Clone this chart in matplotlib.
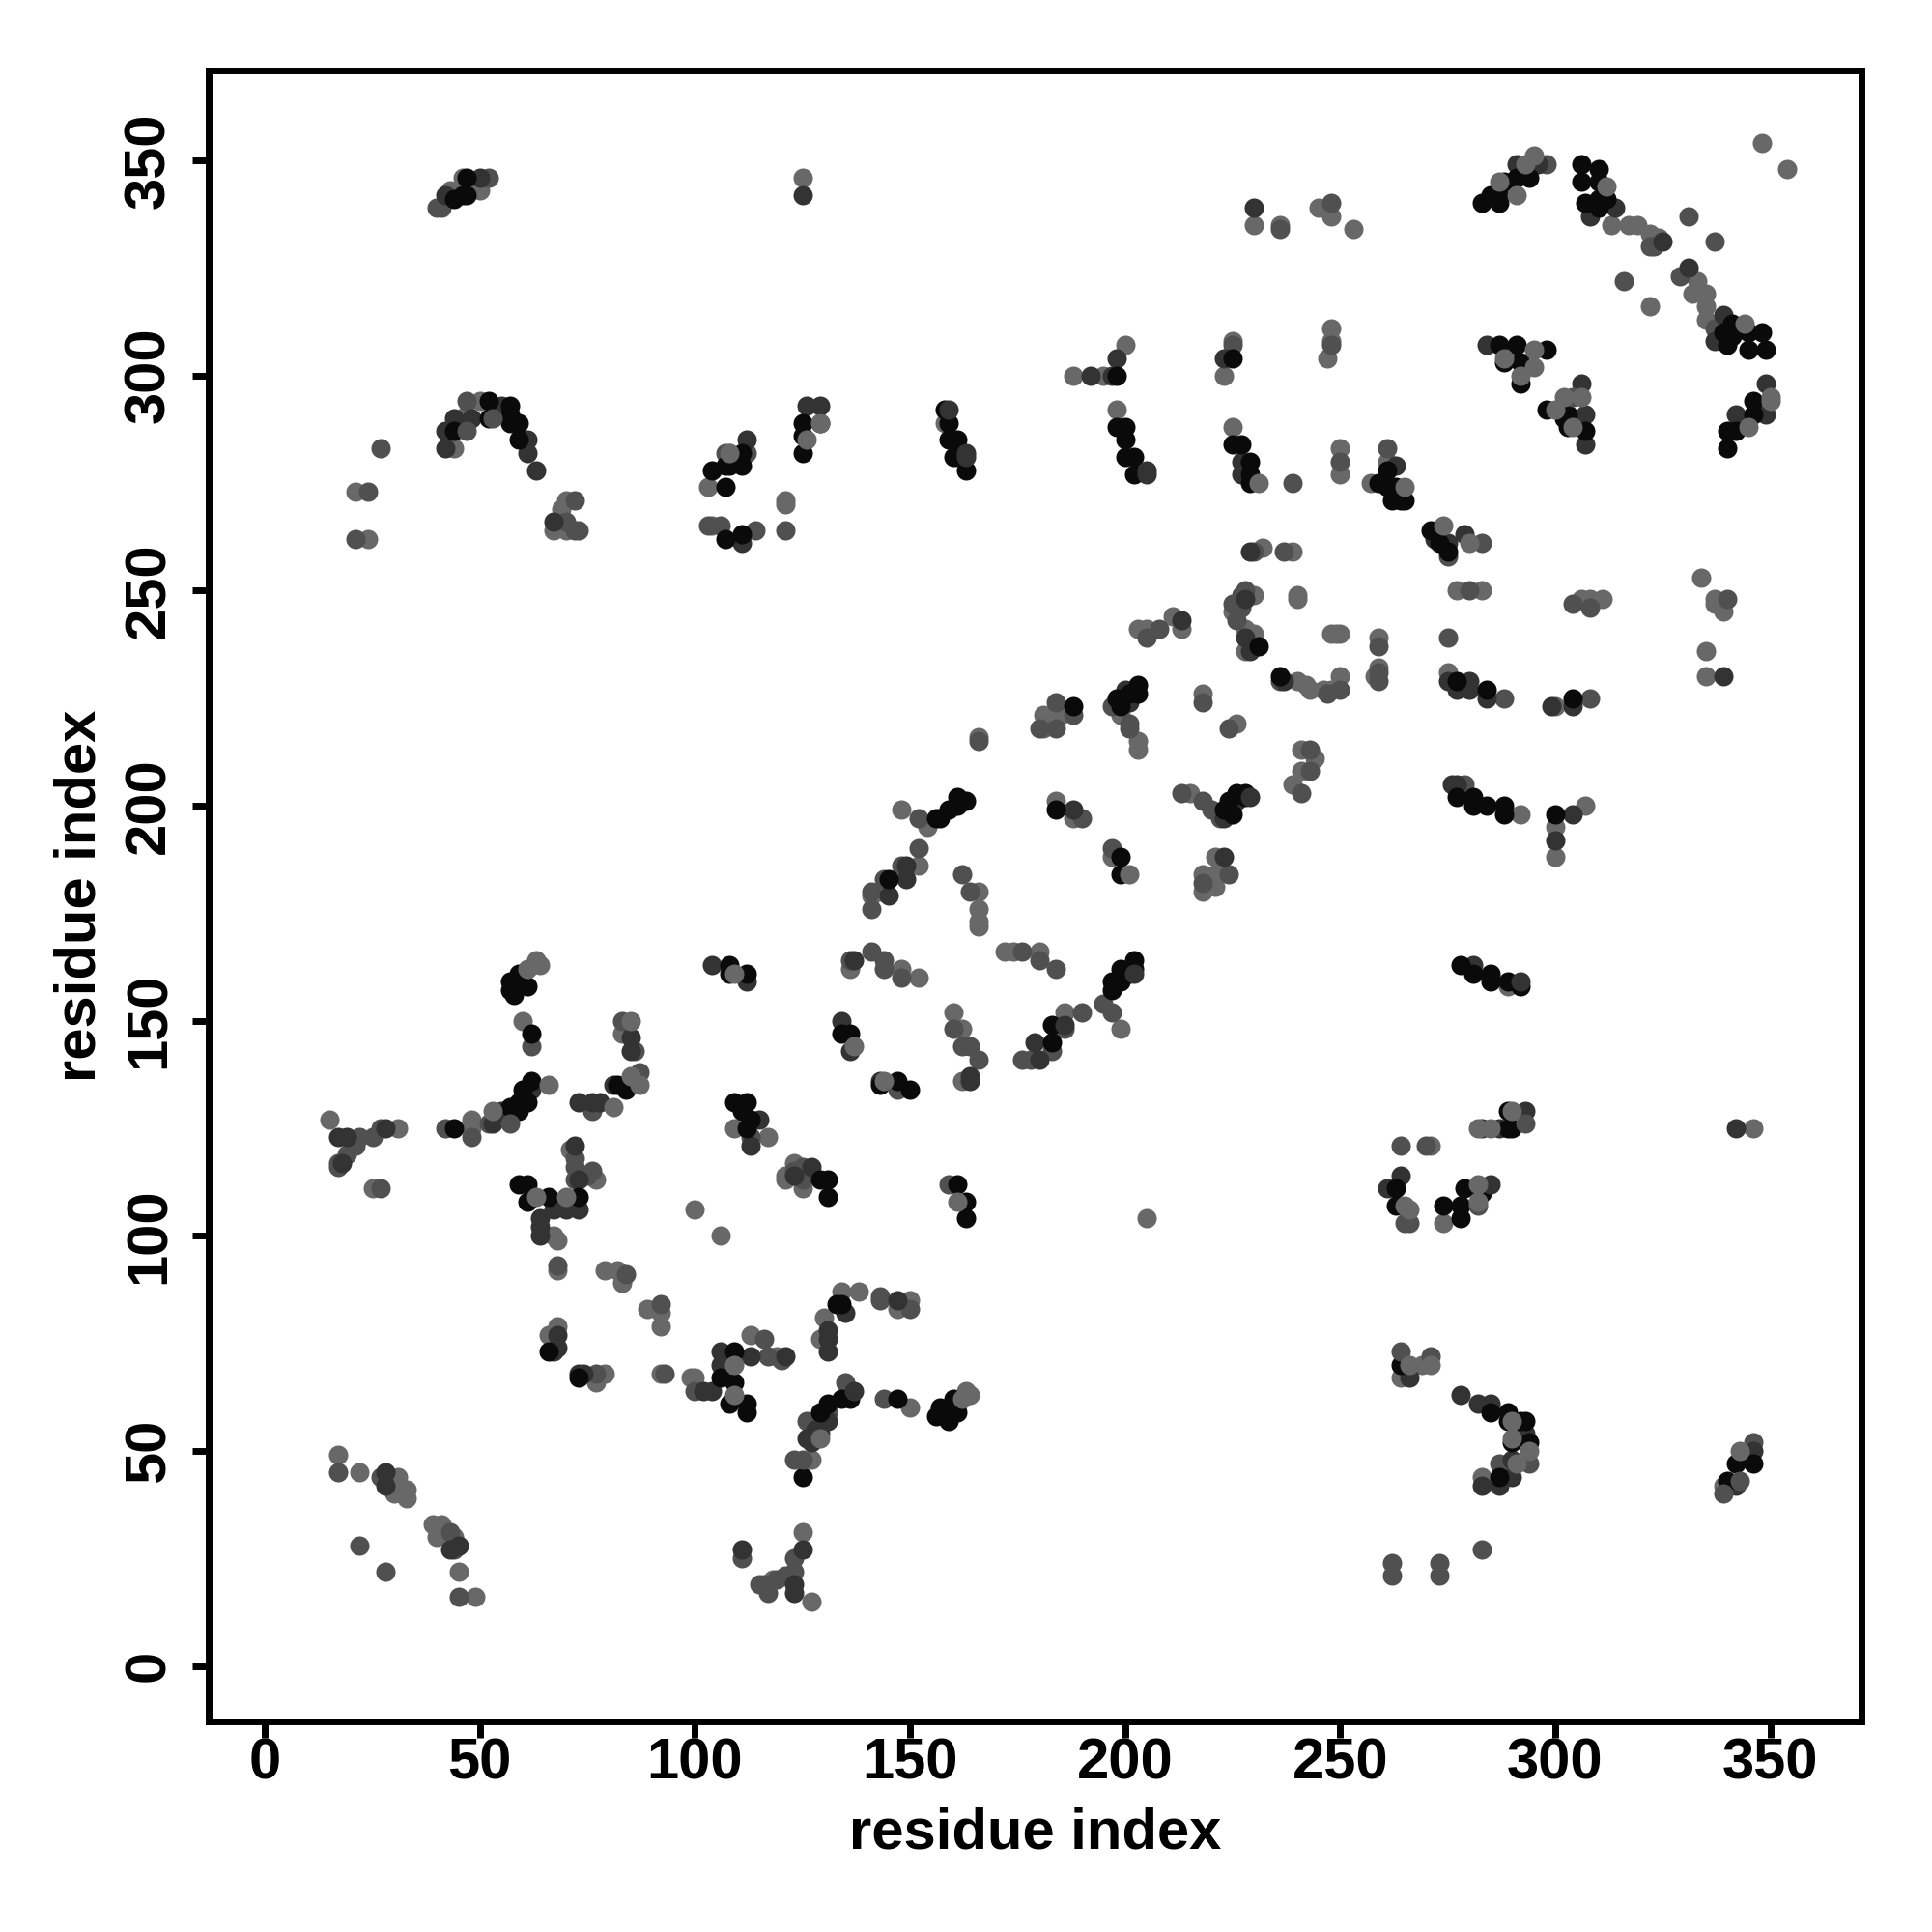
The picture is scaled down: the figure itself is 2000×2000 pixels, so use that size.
#!/usr/bin/env python3
# residue contact map, dots sorted by the grey level
import matplotlib

matplotlib.use("Agg")
import matplotlib.pyplot as plt

plt.rcParams["font.family"] = ["Liberation Sans", "DejaVu Sans"]
plt.rcParams["font.weight"] = "bold"

C_LIGHT, C_MID, C_DARK, C_BLACK = "#686868", "#505050", "#333333", "#0a0a0a"

ticks = [0, 50, 100, 150, 200, 250, 300, 350]

light_pts = [
    (43, 343), (50, 343), (46, 346), (50, 294), (47, 291), (44, 283), (21, 273), (24, 262), (70, 271), (69, 269),
    (67, 264), (70, 264), (108, 282), (103, 274), (125, 346), (230, 335), (236, 335), (200, 307), (195, 300),
    (188, 300), (225, 308), (223, 300), (121, 271), (121, 270), (158, 289), (198, 292), (225, 288), (232, 260),
    (239, 259), (230, 249), (225, 245), (240, 249), (240, 248), (203, 241), (205, 241), (211, 244), (213, 241),
    (228, 241), (230, 240), (228, 236), (240, 229), (242, 228), (181, 221), (185, 221), (181, 218), (199, 221),
    (203, 215), (203, 213), (218, 226), (226, 219), (166, 216), (241, 213), (241, 208), (239, 205), (244, 211),
    (215, 203), (184, 201), (188, 197), (148, 199), (154, 195), (152, 186), (143, 180), (141, 179), (166, 180),
    (166, 176), (166, 173), (166, 172), (197, 188), (221, 188), (218, 184), (218, 180), (221, 184), (221, 181),
    (136, 162), (148, 162), (152, 160), (172, 166), (174, 166), (180, 166), (199, 148), (186, 152), (160, 152),
    (162, 148), (162, 136), (60, 150), (83, 147), (48, 127), (48, 125), (15, 127), (31, 125), (25, 111), (71, 120),
    (77, 113), (67, 100), (68, 99), (68, 92), (79, 92), (82, 92), (83, 89), (100, 106), (106, 100), (89, 83),
    (92, 82), (92, 79), (68, 79), (66, 77), (79, 68), (77, 66), (92, 68), (99, 67), (100, 67), (113, 77), (17, 49),
    (22, 45), (31, 44), (33, 41), (30, 40), (33, 39), (39, 33), (41, 33), (40, 30), (44, 30), (45, 22), (49, 16),
    (121, 114), (125, 111), (205, 104), (134, 87), (138, 87), (150, 85), (147, 83), (130, 81), (129, 76), (119, 72),
    (127, 48), (150, 60), (125, 31), (127, 15), (118, 20), (274, 103), (264, 67), (269, 70), (283, 44), (339, 42),
    (249, 240), (248, 240), (250, 240), (259, 239), (250, 230), (248, 227), (246, 227), (243, 227), (259, 232),
    (258, 230), (275, 231), (300, 223), (335, 236), (335, 230), (277, 250), (283, 250), (308, 248), (311, 248),
    (306, 248), (334, 253), (337, 248), (337, 247), (339, 245), (348, 354), (354, 348), (245, 339), (248, 337),
    (253, 334), (248, 311), (248, 308), (247, 304), (313, 335), (317, 335), (319, 335), (322, 333), (324, 332),
    (322, 316), (331, 324), (333, 322), (332, 319), (335, 319), (335, 316), (335, 313), (250, 283), (250, 277),
    (261, 280), (257, 275), (292, 198), (307, 200), (300, 195), (300, 188), (289, 158), (346, 125), (271, 121),
    (109, 125), (117, 123), (123, 117), (104, 265), (121, 113),
]
mid_pts = [
    (40, 339), (41, 339), (52, 346), (47, 294), (27, 283), (24, 273), (21, 262), (70, 266), (72, 264), (112, 282),
    (107, 282), (103, 265), (106, 265), (114, 264), (236, 334), (225, 307), (121, 264), (239, 275), (237, 259),
    (230, 259), (228, 250), (227, 249), (225, 247), (227, 246), (205, 239), (208, 241), (226, 243), (236, 229),
    (184, 224), (188, 221), (184, 218), (180, 218), (197, 223), (201, 219), (201, 218), (218, 224), (224, 218),
    (166, 215), (243, 213), (243, 208), (241, 203), (213, 203), (218, 201), (220, 199), (222, 197), (190, 197),
    (152, 197), (152, 190), (148, 186), (144, 183), (141, 180), (141, 176), (162, 184), (164, 180), (197, 190),
    (224, 184), (218, 182), (136, 164), (141, 166), (144, 164), (144, 162), (148, 160), (176, 166), (180, 164),
    (184, 162), (195, 154), (197, 152), (190, 152), (186, 148), (176, 141), (178, 141), (183, 143), (160, 148),
    (162, 144), (164, 144), (166, 141), (147, 134), (62, 144), (83, 150), (86, 143), (87, 138), (76, 129), (52, 126),
    (48, 123), (42, 125), (22, 123), (25, 123), (27, 125), (21, 121), (19, 119), (17, 117), (17, 116), (27, 111),
    (72, 118), (72, 116), (76, 115), (72, 113), (75, 114), (68, 93), (84, 91), (92, 84), (77, 68), (93, 68),
    (100, 64), (17, 45), (27, 44), (43, 31), (44, 27), (22, 28), (28, 22), (45, 16), (111, 25), (125, 113),
    (159, 112), (143, 86), (150, 83), (143, 85), (116, 76), (117, 72), (120, 71), (135, 66), (126, 57), (131, 59),
    (123, 48), (144, 62), (123, 25), (123, 22), (121, 21), (116, 19), (117, 17), (115, 19), (119, 20), (266, 103),
    (265, 103), (271, 72), (287, 47), (346, 52), (262, 24), (262, 21), (273, 24), (273, 21), (283, 27), (259, 237),
    (275, 239), (250, 227), (247, 226), (259, 231), (259, 229), (288, 225), (308, 225), (280, 250), (304, 247),
    (308, 246), (340, 248), (248, 340), (298, 349), (331, 337), (337, 331), (316, 322), (322, 330), (323, 330),
    (329, 323), (337, 311), (250, 280), (261, 283), (283, 261), (275, 258), (279, 205), (264, 121), (270, 121),
    (248, 307), (123, 115), (113, 123), (125, 116),
]
dark_pts = [
    (42, 342), (50, 346), (55, 293), (48, 290), (44, 290), (42, 287), (42, 283), (61, 285), (61, 282), (63, 278),
    (67, 266), (112, 285), (111, 261), (125, 342), (230, 339), (198, 304), (197, 300), (192, 300), (223, 304),
    (126, 293), (129, 293), (161, 281), (227, 280), (227, 277), (229, 259), (228, 248), (213, 243), (228, 239),
    (229, 236), (237, 229), (201, 224), (200, 227), (226, 201), (223, 197), (188, 199), (149, 186), (149, 183),
    (145, 179), (137, 164), (179, 145), (180, 141), (164, 136), (134, 150), (136, 143), (143, 136), (223, 188),
    (104, 163), (112, 159), (85, 146), (85, 143), (85, 135), (81, 135), (73, 131), (76, 131), (78, 131), (62, 134),
    (55, 129), (53, 126), (28, 125), (17, 123), (19, 123), (18, 117), (72, 121), (73, 113), (67, 106), (70, 106),
    (73, 106), (64, 104), (64, 102), (64, 100), (68, 77), (68, 74), (67, 73), (73, 68), (74, 68), (102, 64),
    (104, 64), (106, 73), (106, 70), (113, 72), (28, 45), (28, 42), (45, 28), (43, 27), (111, 27), (123, 114),
    (135, 82), (147, 85), (131, 78), (131, 76), (131, 73), (131, 57), (128, 55), (129, 54), (126, 53), (127, 52),
    (125, 27), (123, 19), (123, 17), (264, 114), (261, 111), (266, 67), (278, 63), (282, 61), (285, 61), (293, 54),
    (290, 48), (290, 44), (283, 42), (287, 42), (346, 50), (342, 42), (291, 349), (308, 337), (314, 339), (325, 331),
    (331, 325), (337, 308), (339, 314), (284, 307), (306, 298), (307, 291), (307, 284), (349, 298), (342, 291),
    (349, 291), (263, 279), (272, 262), (275, 261), (279, 263), (275, 229), (280, 229), (280, 227), (277, 227),
    (284, 225), (304, 223), (339, 230), (299, 223), (277, 205), (276, 205), (304, 198), (300, 192), (281, 163),
    (283, 125), (287, 125), (342, 125), (115, 127), (113, 121), (127, 116), (296, 349),
]
black_pts = [
    (44, 341), (46, 342), (47, 342), (47, 346), (52, 294), (52, 290), (44, 287), (57, 293), (57, 291), (57, 289),
    (59, 289), (59, 285), (111, 282), (104, 278), (107, 279), (108, 279), (111, 279), (107, 274), (107, 262),
    (111, 263), (198, 300), (225, 304), (125, 289), (129, 289), (125, 286), (125, 282), (158, 292), (159, 289),
    (159, 285), (161, 285), (160, 281), (163, 278), (198, 288), (200, 288), (200, 285), (200, 281), (202, 281),
    (202, 277), (225, 284), (227, 284), (229, 280), (229, 277), (229, 275), (231, 237), (236, 230), (188, 223),
    (203, 228), (201, 226), (203, 226), (199, 225), (198, 225), (199, 223), (184, 199), (157, 197), (159, 199),
    (161, 202), (161, 200), (156, 197), (163, 201), (145, 183), (199, 188), (199, 184), (202, 164), (202, 162),
    (201, 161), (199, 162), (197, 159), (199, 159), (197, 157), (183, 149), (183, 145), (134, 147), (136, 147),
    (147, 136), (143, 135), (150, 134), (108, 163), (108, 161), (112, 161), (59, 161), (57, 159), (57, 157), (59, 158),
    (58, 156), (61, 158), (62, 147), (82, 135), (84, 134), (62, 136), (60, 134), (59, 131), (61, 131), (57, 130),
    (59, 129), (44, 125), (59, 112), (61, 112), (61, 108), (66, 109), (73, 109), (66, 73), (73, 67), (109, 73),
    (106, 67), (109, 66), (108, 61), (112, 61), (112, 59), (129, 113), (131, 113), (131, 109), (161, 112), (163, 108),
    (163, 104), (134, 84), (133, 84), (125, 44), (134, 62), (136, 62), (131, 61), (129, 59), (147, 62), (161, 61),
    (160, 62), (159, 60), (157, 60), (156, 58), (159, 57), (161, 59), (263, 111), (263, 107), (274, 107), (278, 104),
    (279, 111), (278, 107), (283, 110), (264, 70), (285, 59), (289, 59), (289, 57), (292, 57), (293, 57), (294, 52),
    (290, 52), (287, 44), (346, 47), (342, 47), (340, 43), (291, 346), (294, 346), (287, 342), (283, 340), (287, 340),
    (306, 349), (310, 348), (306, 345), (310, 345), (312, 341), (307, 340), (310, 341), (310, 339), (339, 310),
    (340, 307), (341, 312), (345, 310), (348, 310), (345, 306), (349, 306), (341, 309), (287, 307), (291, 307),
    (298, 306), (288, 303), (292, 303), (292, 298), (298, 292), (303, 291), (303, 288), (307, 287), (346, 294),
    (346, 291), (342, 287), (340, 287), (340, 283), (259, 275), (261, 274), (263, 274), (264, 271), (265, 271),
    (262, 271), (261, 278), (271, 264), (273, 261), (275, 259), (277, 229), (284, 227), (304, 225), (277, 202),
    (281, 202), (281, 200), (284, 200), (288, 200), (288, 198), (300, 198), (278, 163), (281, 161), (285, 161),
    (285, 159), (289, 159), (292, 158), (289, 129), (289, 125), (290, 125),
    (109, 131), (112, 131), (111, 129), (113, 127), (112, 125), (223, 199), (224, 201), (226, 203), (228, 203),
    (225, 198), (228, 202), (285, 342), (288, 345), (293, 347), (302, 290),
]
# dots that sit on top of the black ones in the picture
over_dark_pts = [
    (159, 292), (163, 282), (163, 281), (205, 278), (205, 277), (164, 137), (186, 149), (202, 161), (292, 159),
    (121, 72), (285, 112), (137, 64), (293, 129), (229, 202),
]
over_mid_pts = [
    (53, 290), (47, 287), (73, 264), (72, 271), (125, 48), (57, 126), (294, 47), (339, 40), (343, 43), (264, 73),
    (282, 107), (304, 295), (293, 126),
]
over_light_pts = [
    (108, 282), (129, 289), (126, 285), (231, 275), (201, 184), (137, 144), (144, 136), (109, 161), (85, 150),
    (85, 137), (87, 135), (81, 130), (109, 70), (109, 63), (63, 109), (70, 109), (63, 164), (64, 163), (61, 162),
    (66, 135), (53, 129), (290, 57), (290, 53), (291, 47), (294, 50), (265, 107), (266, 106), (282, 108), (282, 112),
    (266, 70), (271, 70), (295, 306), (288, 304), (295, 302), (292, 300), (302, 295), (306, 295), (300, 292),
    (304, 288), (344, 312), (312, 344), (293, 349), (295, 351), (287, 345), (291, 342), (265, 274), (274, 265),
    (280, 261), (350, 295), (350, 294), (345, 288), (343, 50), (290, 129), (285, 125), (282, 125), (161, 108),
    (162, 62), (163, 64), (164, 63), (129, 53),
]

fig = plt.figure(figsize=(10, 10), dpi=200)
ax = fig.add_axes([0.1078, 0.1090, 0.8557, 0.8546])

layers = [
    (light_pts, C_LIGHT), (mid_pts, C_MID), (dark_pts, C_DARK), (black_pts, C_BLACK),
    (over_dark_pts, C_DARK), (over_mid_pts, C_MID), (over_light_pts, C_LIGHT),
]
for pts, col in layers:
    xs, ys = zip(*pts)
    ax.scatter(xs, ys, s=52, color=col, linewidths=0, zorder=3)

ax.set_xlim(-13.16, 371.2)
ax.set_ylim(-12.9, 370.9)
ax.set_xticks(ticks)
ax.set_yticks(ticks)
ax.tick_params(axis="x", length=6, width=2.5, labelsize=21.5, pad=0)
ax.tick_params(axis="y", length=6, width=2.5, labelsize=21.5, pad=6)
for lab in ax.get_yticklabels():
    lab.set_rotation(90)
    lab.set_va("center")
for sp in ax.spines.values():
    sp.set_linewidth(2.5)
ax.set_xlabel("residue index", fontsize=21.5, fontweight="bold", labelpad=6)
ax.set_ylabel("residue index", fontsize=21.5, fontweight="bold", labelpad=6)

fig.savefig("out.png", dpi=200, facecolor="white")
